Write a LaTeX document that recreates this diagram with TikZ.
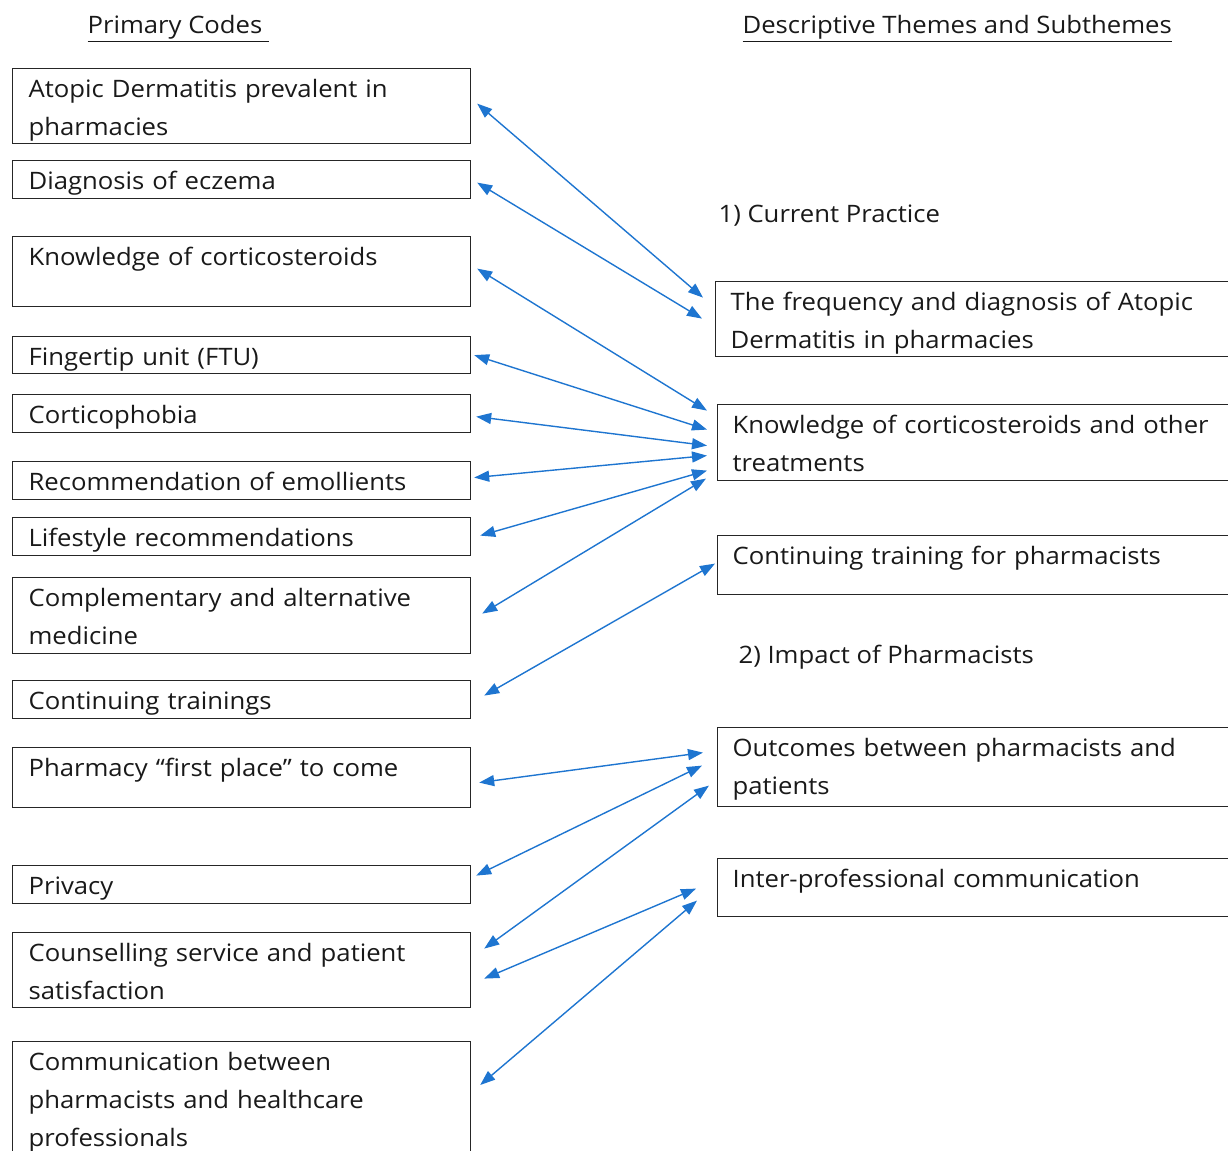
\documentclass[tikz,border=0pt]{standalone}
\usepackage{fontspec}
\setmainfont{Open Sans}[FakeStretch=1.07]
\usepackage{xcolor}
\usepackage{tikz}
\usetikzlibrary{arrows.meta}
\definecolor{linkblue}{RGB}{30,117,208}

\begin{document}
\begin{tikzpicture}[x=0.5pt,y=-0.5pt,>={Triangle[length=7.5pt,width=5.5pt]},semithick]
 				 \tikzstyle{every node}=[font=\fontsize{12}{19}\selectfont, text=black!90]
 				 \tikzstyle{code}=[draw=black!85, line width=0.6pt, anchor=north west, align=left, text width=213pt, inner xsep=8pt, inner ysep=0pt, text height=14.5pt]
 				 \tikzstyle{theme}=[code, text width=246.5pt, inner xsep=7.5pt]
 				 \tikzstyle{head}=[anchor=base west, inner sep=0pt]
 				 \tikzstyle{link}=[color=linkblue, line width=0.7pt, every edge/.style={draw, <->}]
 				 \useasboundingbox (0,0) rectangle (1228,1151);
 					 % headings
 					 \node[head] (hcodes)  at (87,33)  {\underline{Primary Codes\ }};
 					 \node[head] (hthemes) at (742,33) {\underline{Descriptive Themes and Subthemes}};
 					 \node[head] (cur)     at (718,222) {1) Current Practice};
 					 \node[head] (imp)     at (738,663) {2) Impact of Pharmacists};
 					 % primary codes
 					 \node[code, text depth=23pt]   (atd) at (12,68)   {Atopic Dermatitis prevalent in\\pharmacies};
 					 \node[code, text depth=4.5pt]  (dx)  at (12,160)  {Diagnosis of eczema};
 					 \node[code, text depth=20.5pt] (kc)  at (12,236)  {Knowledge of corticosteroids};
 					 \node[code, text depth=4pt]    (ftu) at (12,336)  {Fingertip unit (FTU)};
 					 \node[code, text depth=4.5pt]  (cph) at (12,394)  {Corticophobia};
 					 \node[code, text depth=4.5pt]  (emo) at (12,461)  {Recommendation of emollients};
 					 \node[code, text depth=4.5pt]  (lif) at (12,517)  {Lifestyle recommendations};
 					 \node[code, text depth=23.5pt] (cam) at (12,577)  {Complementary and alternative\\medicine};
 					 \node[code, text depth=4.5pt]  (ctr) at (12,680)  {Continuing trainings};
 					 \node[code, text depth=15.5pt] (fst) at (12,747)  {Pharmacy “first place” to come};
 					 \node[code, text depth=4.5pt]  (prv) at (12,865)  {Privacy};
 					 \node[code, text depth=23pt]   (cns) at (12,932)  {Counselling service and patient\\satisfaction};
 					 \node[code, text depth=43pt]   (com) at (12,1041) {Communication between\\pharmacists and healthcare\\professionals};
 					 % themes
 					 \node[theme, text depth=23pt]   (frq) at (715,281) {The frequency and diagnosis of Atopic\\Dermatitis in pharmacies};
 					 \node[theme, text depth=23.5pt] (kct) at (717,404) {Knowledge of corticosteroids and other\\treatments};
 					 \node[theme, text depth=15pt]   (ctp) at (717,535) {Continuing training for pharmacists};
 					 \node[theme, text depth=25pt]   (out) at (717,727) {Outcomes between pharmacists and\\patients};
 					 \node[theme, text depth=14.5pt] (ipc) at (717,858) {Inter-professional communication};

 					  \path[link]
 					  			([shift={(6,-2.5)}]atd.east) edge ([shift={(-12,-21.5)}]frq.west)
 					 			([shift={(6,3)}]dx.east)     edge ([shift={(-13,-0.5)}]frq.west)
 					 			([shift={(6,-3)}]kc.east)    edge ([shift={(-10,-32)}]kct.west)
 					 			([shift={(3,0)}]ftu.east)    edge ([shift={(-10,-13)}]kct.west)
 					 			([shift={(5,3)}]cph.east)    edge ([shift={(-10,3)}]kct.west)
 					 			([shift={(3,-3)}]emo.east)   edge ([shift={(-10,13)}]kct.west)
 					 			([shift={(9,-1)}]lif.east)   edge ([shift={(-10,28)}]kct.west)
 					 			([shift={(11,-2)}]cam.east)  edge ([shift={(-11,36)}]kct.west)
 					 			([shift={(13,-4)}]ctr.east)  edge ([shift={(-2,-1.5)}]ctp.west)
 					 			([shift={(8,5)}]fst.east)    edge ([shift={(-14,-14.5)}]out.west)
 					 			([shift={(5,-9)}]prv.east)   edge ([shift={(-15,-1.5)}]out.west)
 					 			([shift={(13,-21.5)}]cns.east) edge ([shift={(-8,18.5)}]out.west)
 					 			([shift={(13,8.5)}]cns.east) edge ([shift={(-21,1)}]ipc.west)
 					 			([shift={(9,44)}]com.north east) edge ([shift={(-20,13)}]ipc.west);
				\end{tikzpicture}
\end{document}
